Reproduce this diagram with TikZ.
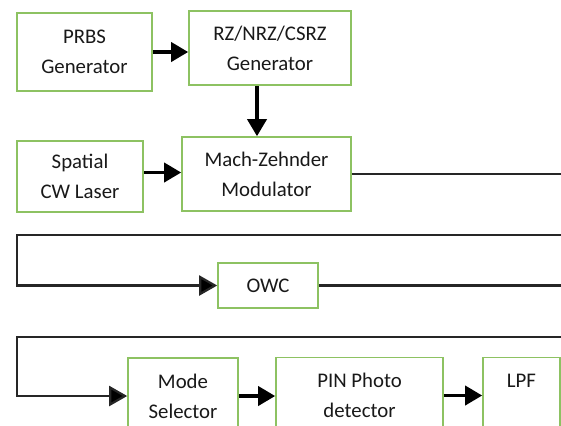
\documentclass[tikz,border=0pt]{standalone}
\usepackage{fontspec}
\setmainfont{Carlito}
\usepackage{xcolor}
\definecolor{boxgreen}{HTML}{8DC262}
\definecolor{wire}{HTML}{262626}
\usetikzlibrary{arrows.meta,positioning}

\begin{document}
\begin{tikzpicture}[
    x=0.5pt, y=-0.5pt,
    block/.style={draw=boxgreen, line width=0.8pt, fill=white, align=center, inner sep=0pt, text=black!90, font=\fontsize{10.4}{15}\selectfont},
    flow/.style={-{Triangle[length=8.5pt,width=9.5pt]}, line width=1.8pt, black},
    feed/.style={-{Triangle[length=9pt,width=10pt,fill=black]}, line width=1.1pt, wire},
]

\clip (0,0) rectangle (561,425);

% transmitter blocks
\node[block, minimum width=67.5pt, minimum height=39pt] (prbs) at (84.5,52) {PRBS\\Generator};
\node[block, minimum width=81pt, minimum height=37pt] (coder) at (270,48) {RZ/NRZ/CSRZ\\Generator};
\node[block, minimum width=63pt, minimum height=35.5pt] (laser) at (80,176.5) {Spatial\\CW Laser};
\node[block, minimum width=84.5pt, minimum height=37pt] (mzm) at (266.5,174) {Mach-Zehnder\\Modulator};

% channel
\node[block, minimum width=50pt, minimum height=22.5pt] (owc) at (268,285.5) {OWC};

% receiver blocks
\node[block, minimum width=55pt, minimum height=38pt] (mode) at (183,396) {Mode\\Selector};
\node[block, minimum width=83.5pt, minimum height=38pt] (pin) at (359.5,395.5) {PIN Photo\\detector};
\node[block, minimum width=38.5pt, minimum height=38pt] (lpf) at (521.5,395.5) {LPF\\~};

% turn points of the wrapped lines
\coordinate (r1) at (580,235);
\coordinate (l1) at (17,235);
\coordinate (r2) at (580,337);
\coordinate (l2) at (17,337);

% short arrows
\draw[flow] (prbs.east) -- (prbs.east -| coder.west);
\draw[flow] ([xshift=-6.5pt]coder.south) -- ([xshift=-6.5pt]coder.south |- mzm.north);
\draw[flow] ([yshift=2pt]laser.east) -- ([yshift=2pt]laser.east -| mzm.west);
\draw[flow] (mode.east) -- (mode.east -| pin.west);
\draw[flow] (pin.east) -- (pin.east -| lpf.west);

% wrapped lines
\draw[feed] (mzm.east) -| (r1) -- (l1) |- (owc.west);
\draw[feed] (owc.east) -| (r2) -- (l2) |- (mode.west);

\end{tikzpicture}
\end{document}
